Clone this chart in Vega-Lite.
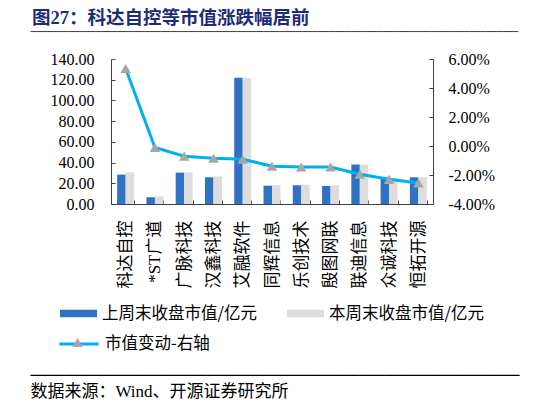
{
  "$schema": "https://vega.github.io/schema/vega-lite/v6.json",
  "width": 322,
  "height": 145,
  "autosize": {"type": "none"},
  "padding": {"left": 111, "top": 59, "right": 113, "bottom": 201},
  "background": "white",
  "config": {"view": {"stroke": null}, "font": "Liberation Serif, Noto Sans CJK SC"},
  "title": {
    "text": "图27：科达自控等市值涨跌幅居前",
    "anchor": "start",
    "frame": "group",
    "dx": -79,
    "dy": 4,
    "fontSize": 18.5,
    "font": "Liberation Serif, Noto Sans CJK SC",
    "fontWeight": "bold",
    "color": "#1E2C78",
    "limit": 1000
  },
  "datasets": {
    "bars": [
      {"name": "科达自控", "series": "上周末收盘市值/亿元", "value": 28.4},
      {"name": "科达自控", "series": "本周末收盘市值/亿元", "value": 30.6},
      {"name": "*ST广道", "series": "上周末收盘市值/亿元", "value": 6.5},
      {"name": "*ST广道", "series": "本周末收盘市值/亿元", "value": 7.4},
      {"name": "广脉科技", "series": "上周末收盘市值/亿元", "value": 30.3},
      {"name": "广脉科技", "series": "本周末收盘市值/亿元", "value": 30.6},
      {"name": "汉鑫科技", "series": "上周末收盘市值/亿元", "value": 25.8},
      {"name": "汉鑫科技", "series": "本周末收盘市值/亿元", "value": 26.5},
      {"name": "艾融软件", "series": "上周末收盘市值/亿元", "value": 121.9},
      {"name": "艾融软件", "series": "本周末收盘市值/亿元", "value": 121.6},
      {"name": "同辉信息", "series": "上周末收盘市值/亿元", "value": 17.7},
      {"name": "同辉信息", "series": "本周末收盘市值/亿元", "value": 18.1},
      {"name": "乐创技术", "series": "上周末收盘市值/亿元", "value": 18.1},
      {"name": "乐创技术", "series": "本周末收盘市值/亿元", "value": 18.7},
      {"name": "殷图网联", "series": "上周末收盘市值/亿元", "value": 17.4},
      {"name": "殷图网联", "series": "本周末收盘市值/亿元", "value": 18.1},
      {"name": "联迪信息", "series": "上周末收盘市值/亿元", "value": 38.1},
      {"name": "联迪信息", "series": "本周末收盘市值/亿元", "value": 38.1},
      {"name": "众诚科技", "series": "上周末收盘市值/亿元", "value": 25.3},
      {"name": "众诚科技", "series": "本周末收盘市值/亿元", "value": 24.7},
      {"name": "恒拓开源", "series": "上周末收盘市值/亿元", "value": 25.8},
      {"name": "恒拓开源", "series": "本周末收盘市值/亿元", "value": 25.8}
    ],
    "chg": [
      {"name": "科达自控", "chg": 0.0535},
      {"name": "*ST广道", "chg": -0.001},
      {"name": "广脉科技", "chg": -0.007},
      {"name": "汉鑫科技", "chg": -0.0084},
      {"name": "艾融软件", "chg": -0.0091},
      {"name": "同辉信息", "chg": -0.0139},
      {"name": "乐创技术", "chg": -0.0145},
      {"name": "殷图网联", "chg": -0.0145},
      {"name": "联迪信息", "chg": -0.0195},
      {"name": "众诚科技", "chg": -0.023},
      {"name": "恒拓开源", "chg": -0.0255}
    ]
  },
  "layer": [
    {
      "data": {"name": "bars"},
      "mark": {"type": "bar"},
      "encoding": {
        "x": {
          "field": "name",
          "type": "nominal",
          "sort": null,
          "scale": {
            "domain": ["科达自控", "*ST广道", "广脉科技", "汉鑫科技", "艾融软件", "同辉信息", "乐创技术", "殷图网联", "联迪信息", "众诚科技", "恒拓开源"],
            "paddingInner": 0.42,
            "paddingOuter": 0.21
          },
          "axis": {
            "orient": "bottom",
            "title": "──────────────────────────────────────────────────────────",
            "titleFont": "DejaVu Sans Mono",
            "titleFontSize": 14,
            "titleFontWeight": "normal",
            "titleColor": "#000000",
            "titleX": -81,
            "titleY": 171,
            "titleAlign": "left",
            "titleBaseline": "middle",
            "titleLimit": 1000,
            "labelAngle": 270,
            "labelFontSize": 17,
            "labelColor": "#000000",
            "labelPadding": 20,
            "tickSize": -4,
            "tickBand": "extent",
            "domainColor": "#404040",
            "tickColor": "#404040"
          }
        },
        "xOffset": {"field": "series", "type": "nominal", "sort": null, "scale": {"domain": ["上周末收盘市值/亿元", "本周末收盘市值/亿元"]}},
        "y": {
          "field": "value",
          "type": "quantitative",
          "scale": {"domain": [0, 140]},
          "axis": {
            "orient": "left",
            "values": [0, 20, 40, 60, 80, 100, 120, 140],
            "format": ".2f",
            "grid": false,
            "title": "数据来源：Wind、开源证券研究所",
            "titleAngle": 0,
            "titleX": -81,
            "titleY": 332.5,
            "titleAlign": "left",
            "titleBaseline": "middle",
            "titleFontSize": 17,
            "titleFontWeight": "normal",
            "titleColor": "#000000",
            "titleLimit": 1000,
            "labelFontSize": 16,
            "labelColor": "#000000",
            "labelPadding": 21,
            "tickSize": -4,
            "domainColor": "#404040",
            "tickColor": "#404040"
          }
        },
        "fill": {
          "field": "series",
          "type": "nominal",
          "scale": {"domain": ["上周末收盘市值/亿元", "本周末收盘市值/亿元"], "range": ["#2F72C4", "#DDDDDD"]},
          "legend": {
            "orient": "none",
            "legendX": -51,
            "legendY": 236,
            "direction": "horizontal",
            "columns": 2,
            "title": null,
            "symbolType": "M-1,-0.2H1V0.2H-1Z",
            "symbolSize": 1369,
            "symbolStrokeWidth": 0,
            "labelFont": "Noto Sans CJK SC",
            "labelFontSize": 16.5,
            "labelColor": "#000000",
            "labelOffset": 5,
            "labelLimit": 400,
            "columnPadding": 30
          }
        }
      }
    },
    {
      "data": {"name": "chg"},
      "encoding": {
        "x": {"field": "name", "type": "nominal", "sort": null},
        "y": {
          "field": "chg",
          "type": "quantitative",
          "scale": {"domain": [-0.04, 0.06]},
          "axis": {
            "orient": "right",
            "values": [-0.04, -0.02, 0, 0.02, 0.04, 0.06],
            "format": ".2%",
            "labelExpr": "replace(datum.label, '−', '-')",
            "grid": false,
            "title": "──────────────────────────────────────────────────────────────────────────────────────────",
            "titleFont": "DejaVu Sans Mono",
            "titleFontSize": 9,
            "titleFontWeight": "normal",
            "titleColor": "#000000",
            "titleAngle": 0,
            "titleX": -403,
            "titleY": -28,
            "titleAlign": "left",
            "titleBaseline": "middle",
            "titleLimit": 1000,
            "labelFontSize": 16,
            "labelColor": "#000000",
            "labelPadding": 19,
            "tickSize": -4,
            "domainColor": "#404040",
            "tickColor": "#404040"
          }
        }
      },
      "layer": [
        {
          "mark": {"type": "line", "strokeWidth": 3},
          "encoding": {
            "stroke": {
              "datum": "市值变动-右轴",
              "scale": {"domain": ["市值变动-右轴"], "range": ["#00B0F0"]},
              "legend": {
                "orient": "none",
                "legendX": -53,
                "legendY": 264,
                "title": null,
                "symbolType": "stroke",
                "symbolSize": 1521,
                "symbolStrokeWidth": 3,
                "labelFont": "Noto Sans CJK SC",
                "labelFontSize": 16.5,
                "labelColor": "#000000",
                "labelOffset": 5
              }
            }
          }
        },
        {
          "mark": {"type": "point", "filled": true, "size": 110, "color": "#A6A6A6", "opacity": 1},
          "encoding": {
            "shape": {
              "datum": "▲",
              "scale": {"domain": ["▲"], "range": ["triangle-up"]},
              "legend": {
                "orient": "none",
                "legendX": -39,
                "legendY": 278,
                "title": null,
                "symbolSize": 110,
                "symbolFillColor": "#A6A6A6",
                "symbolStrokeWidth": 0,
                "symbolOpacity": 1,
                "labelFontSize": 1,
                "labelOpacity": 0
              }
            }
          }
        }
      ]
    }
  ],
  "resolve": {"scale": {"y": "independent"}}
}
